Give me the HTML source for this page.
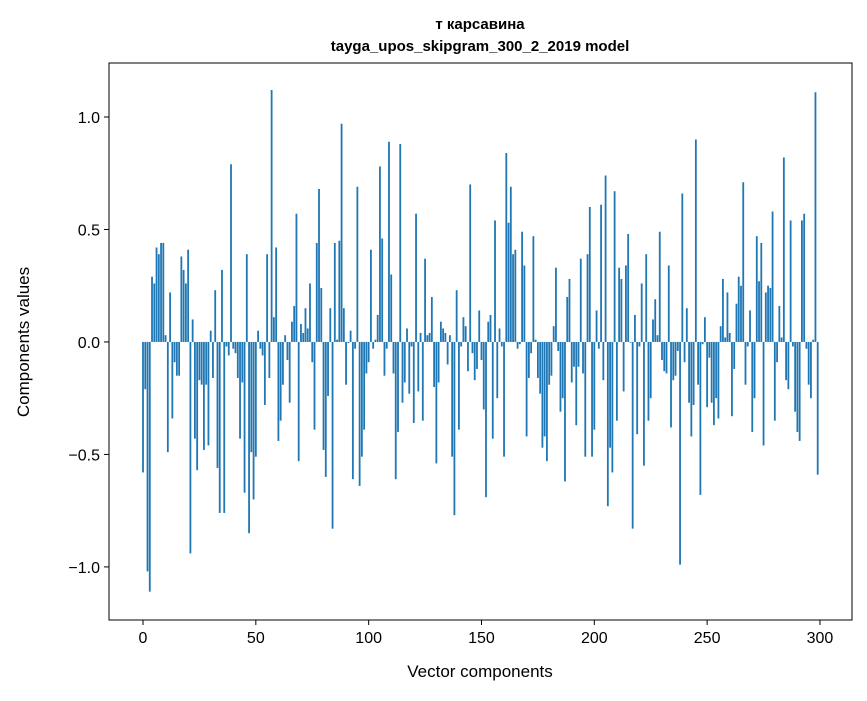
<!DOCTYPE html>
<html><head><meta charset="utf-8"><style>
body{margin:0;background:#fff;}
svg text{font-family:"Liberation Sans","DejaVu Sans",sans-serif;fill:#000;}
</style></head><body>
<svg id="chart" width="867" height="696" xmlns="http://www.w3.org/2000/svg">
<rect width="867" height="696" fill="#fff"/>
<text x="480" y="29" text-anchor="middle" font-size="15" font-weight="bold">т карсавина</text>
<text x="480" y="51" text-anchor="middle" font-size="15" font-weight="bold">tayga_upos_skipgram_300_2_2019 model</text>
<g id="bars"></g>
<g id="axes"></g>
<text x="480" y="677" text-anchor="middle" font-size="17">Vector components</text>
<text transform="translate(29,342) rotate(-90)" text-anchor="middle" font-size="17">Components values</text>
</svg>
<script>
const values = [
-0.58,-0.21,-1.02,-1.11,0.29,0.26,0.42,0.39,0.44,0.44,
0.03,-0.49,0.22,-0.34,-0.09,-0.15,-0.15,0.38,0.32,0.26,
0.41,-0.94,0.10,-0.43,-0.57,-0.17,-0.19,-0.48,-0.19,-0.46,
0.05,-0.16,0.23,-0.56,-0.76,0.32,-0.76,-0.02,-0.06,0.79,
-0.03,-0.05,-0.16,-0.43,-0.18,-0.67,0.39,-0.85,-0.49,-0.70,
-0.51,0.05,-0.03,-0.06,-0.28,0.39,-0.16,1.12,0.11,0.42,
-0.44,-0.35,-0.19,0.03,-0.08,-0.27,0.09,0.16,0.57,-0.53,
0.08,0.04,0.15,0.06,0.26,-0.09,-0.39,0.44,0.68,0.24,
-0.48,-0.60,-0.24,0.15,-0.83,0.44,0.01,0.45,0.97,0.15,
-0.19,-0.005,0.05,-0.61,-0.03,0.69,-0.64,-0.51,-0.39,-0.14,
-0.09,0.41,-0.03,0.01,0.12,0.78,0.46,-0.15,-0.03,0.89,
0.30,-0.14,-0.61,-0.40,0.88,-0.27,-0.18,0.06,-0.23,-0.02,
-0.36,0.57,-0.22,0.04,-0.35,0.37,0.03,0.04,0.20,-0.20,
-0.54,-0.18,0.09,0.06,0.04,-0.10,0.03,-0.51,-0.77,0.23,
-0.39,-0.02,0.11,0.07,-0.13,0.70,-0.05,-0.17,-0.12,0.14,
-0.08,-0.30,-0.69,0.09,0.12,-0.43,0.54,-0.25,0.06,-0.02,
-0.51,0.84,0.53,0.69,0.39,0.41,-0.03,-0.01,0.49,0.34,
-0.42,-0.16,-0.05,0.47,0.01,-0.16,-0.23,-0.47,-0.42,-0.53,
-0.19,-0.15,0.07,0.33,-0.04,-0.31,-0.25,-0.62,0.20,0.28,
-0.18,-0.11,-0.37,-0.11,0.37,-0.14,-0.51,0.39,0.60,-0.51,
-0.39,0.14,-0.03,0.61,-0.17,0.74,-0.73,-0.47,-0.58,0.67,
-0.35,0.33,0.28,-0.22,0.34,0.48,-0.003,-0.83,0.12,-0.41,
-0.02,0.26,-0.55,0.39,-0.35,-0.25,0.10,0.19,0.03,0.49,
-0.08,-0.13,-0.14,0.34,-0.38,-0.17,-0.15,-0.04,-0.99,0.66,
-0.09,0.15,-0.27,-0.42,-0.28,0.90,-0.19,-0.68,-0.01,0.11,
-0.29,-0.07,-0.27,-0.37,-0.25,-0.34,0.07,0.28,0.02,0.22,
0.04,-0.33,-0.12,0.17,0.29,0.25,0.71,-0.19,-0.02,0.14,
-0.40,-0.25,0.47,0.27,0.44,-0.46,0.22,0.25,0.24,0.58,
-0.35,-0.09,0.16,0.02,0.82,-0.17,-0.21,0.54,-0.02,-0.31,
-0.40,-0.44,0.54,0.57,-0.03,-0.19,-0.25,0.01,1.11,-0.59
];
const xTicks = [0,50,100,150,200,250,300];
const yTicks = [1.0,0.5,0.0,-0.5,-1.0];
const yTickLabels = ["1.0","0.5","0.0","\u22120.5","\u22121.0"];

const L=109,R=852,T=63,B=620;
const xMin=-15.07,xMax=314.2,yMin=-1.236,yMax=1.24;
function xs(v){return L+(v-xMin)/(xMax-xMin)*(R-L);}
function ys(v){return T+(yMax-v)/(yMax-yMin)*(B-T);}
const NS="http://www.w3.org/2000/svg";
const bars=document.getElementById('bars');
values.forEach((v,i)=>{
  const r=document.createElementNS(NS,'rect');
  const x0=xs(i-0.4),x1=xs(i+0.4);
  const y0=ys(Math.max(v,0)),y1=ys(Math.min(v,0));
  r.setAttribute('x',x0);r.setAttribute('width',x1-x0);
  r.setAttribute('y',y0);r.setAttribute('height',Math.max(y1-y0,0.01));
  r.setAttribute('fill','#1f77b4');
  
  
  bars.appendChild(r);
});
const ax=document.getElementById('axes');
const frame=document.createElementNS(NS,'rect');
frame.setAttribute('x',L);frame.setAttribute('y',T);
frame.setAttribute('width',R-L);frame.setAttribute('height',B-T);
frame.setAttribute('fill','none');frame.setAttribute('stroke','#000');frame.setAttribute('stroke-width','1');


ax.appendChild(frame);
xTicks.forEach(t=>{
  const x=xs(t);
  const l=document.createElementNS(NS,'line');
  l.setAttribute('x1',x);l.setAttribute('x2',x);l.setAttribute('y1',B);l.setAttribute('y2',B+5);
  l.setAttribute('stroke','#000');
  
  
  ax.appendChild(l);
  const tx=document.createElementNS(NS,'text');
  tx.setAttribute('x',x);tx.setAttribute('y',B+23);tx.setAttribute('text-anchor','middle');tx.setAttribute('font-size','16');
  tx.textContent=String(t);
  
  
  ax.appendChild(tx);
});
yTicks.forEach((t,k)=>{
  const y=ys(t);
  const l=document.createElementNS(NS,'line');
  l.setAttribute('x1',L-5);l.setAttribute('x2',L);l.setAttribute('y1',y);l.setAttribute('y2',y);
  l.setAttribute('stroke','#000');
  
  
  ax.appendChild(l);
  const tx=document.createElementNS(NS,'text');
  tx.setAttribute('x',L-9);tx.setAttribute('y',y+6);tx.setAttribute('text-anchor','end');tx.setAttribute('font-size','16');
  tx.textContent=yTickLabels[k];
  
  
  ax.appendChild(tx);
});
</script>
</body></html>
